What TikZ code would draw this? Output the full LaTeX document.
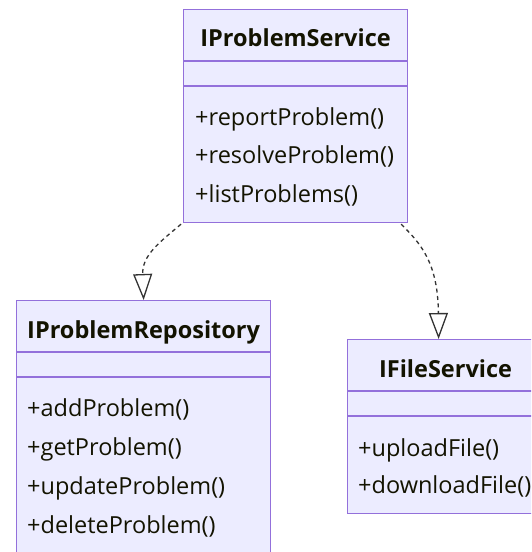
\documentclass[tikz,border=0pt]{standalone}
\usepackage{fontspec}
\setmainfont{Open Sans}
\usetikzlibrary{arrows.meta,positioning}
\definecolor{umlfill}{HTML}{ECECFF}
\definecolor{umlborder}{HTML}{9370DB}
\definecolor{umltext}{HTML}{131300}
\definecolor{umlline}{HTML}{333333}

\tikzset{
  classbox/.style={draw=umlborder,fill=umlfill,line width=1.2pt,inner sep=0pt,
    anchor=north west,minimum width=#1},
  classsep/.style={draw=umlborder,line width=1.2pt},
  classname/.style={text=umltext,inner sep=0pt,text height=17pt,text depth=5pt,
    font=\fontsize{23.5}{28}\selectfont\bfseries},
  member/.style={text=umltext,anchor=west,inner sep=0pt,text height=17pt,text depth=5pt,
    font=\fontsize{23.5}{28}\selectfont},
  realize/.style={draw=umlline,line width=1.3pt,dash pattern=on 4pt off 3.5pt,
    -{Triangle[open,length=26pt,width=19pt,line width=1.3pt]}}
}

\begin{document}
\begin{tikzpicture}[x=1pt,y=-1pt]
   \useasboundingbox (0,0) rectangle (531,552);
   \clip (0,0) rectangle (531,552);

   % class boxes
   \node[classbox=224pt,minimum height=213pt] (svc)   at (183,9)   {};
   \node[classbox=254pt,minimum height=252pt] (repo)  at (16,300)  {};
   \node[classbox=196pt,minimum height=174pt] (files) at (347,339) {};

   % compartments
   \foreach \b in {svc,repo,files} {
     \draw[classsep] ([yshift=-52pt]\b.north west) -- ([yshift=-52pt]\b.north east);
     \draw[classsep] ([yshift=-77pt]\b.north west) -- ([yshift=-77pt]\b.north east);
   }

   % names
   \node[classname] (svc_name)   at ([yshift=-31pt]svc.north)   {IProblemService};
   \node[classname] (repo_name)  at ([yshift=-32pt]repo.north)  {IProblemRepository};
   \node[classname] (files_name) at ([yshift=-32pt]files.north) {IFileService};

   % methods
   \foreach \m [count=\i] in {reportProblem,resolveProblem,listProblems}
     \node[member] (svc_m\i) at ([xshift=12pt,yshift={-110pt-(\i-1)*38.5pt}]svc.north west) {+\m()};
   \foreach \m [count=\i] in {addProblem,getProblem,updateProblem,deleteProblem}
     \node[member] (repo_m\i) at ([xshift=11pt,yshift={-110.5pt-(\i-1)*39pt}]repo.north west) {+\m()};
   \foreach \m [count=\i] in {uploadFile,downloadFile}
     \node[member] (files_m\i) at ([xshift=11pt,yshift={-111pt-(\i-1)*37pt}]files.north west) {+\m()};

   % realizations
   \draw[realize] ([xshift=-2pt,yshift=-1pt]svc.south west)
      .. controls (160,242) and (142,255) .. (repo.north);
   \draw[realize] ([xshift=-7pt,yshift=-1pt]svc.south east)
      .. controls (420,243) and (438,262) .. ([xshift=-7pt]files.north);
\end{tikzpicture}
\end{document}
